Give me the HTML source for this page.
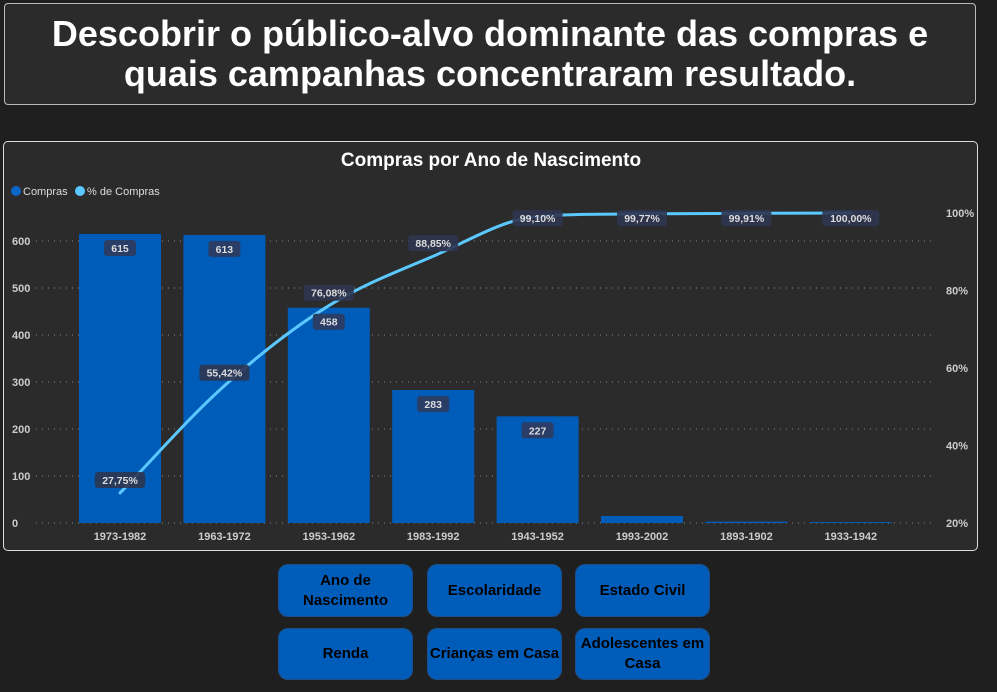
<!DOCTYPE html>
<html><head><meta charset="utf-8"><style>
body{margin:0;width:997px;height:692px;background:#1f1f1f;position:relative;overflow:hidden;font-family:"Liberation Sans",sans-serif}
.title{position:absolute;left:4px;top:3px;width:972px;height:102px;border:1px solid #bbb;border-radius:4px;background:#2b2b2b;color:#fff;font-weight:bold;font-size:36px;line-height:40px;text-align:center;box-sizing:border-box;padding-top:10px}
.panel{position:absolute;left:3px;top:141px;width:975px;height:410px;border:1px solid #ddd;border-radius:5px;background:#2b2b2b;box-sizing:border-box}
.btn{position:absolute;width:135px;height:53px;background:#005cb9;border:1px solid #1d4f8a;border-radius:10px;box-sizing:border-box;color:#000;font-weight:bold;font-size:15px;display:flex;align-items:center;justify-content:center;text-align:center;line-height:20px}
</style></head><body>
<div class="title">Descobrir o público-alvo dominante das compras e<br>quais campanhas concentraram resultado.</div>
<div class="panel"></div>
<svg id="chart" width="997" height="692" style="position:absolute;left:0;top:0" font-family="Liberation Sans, sans-serif"></svg>
<div class="btn" style="left:278px;top:564px">Ano de<br>Nascimento</div>
<div class="btn" style="left:427px;top:564px">Escolaridade</div>
<div class="btn" style="left:575px;top:564px">Estado Civil</div>
<div class="btn" style="left:278px;top:628px;height:52px">Renda</div>
<div class="btn" style="left:427px;top:628px;height:52px">Crianças em Casa</div>
<div class="btn" style="left:575px;top:628px;height:52px">Adolescentes em<br>Casa</div>
<script>
const categories=["1973-1982","1963-1972","1953-1962","1983-1992","1943-1952","1993-2002","1893-1902","1933-1942"];
const compras=[615,613,458,283,227,15,3,2];
const pctCompras=[27.75,55.42,76.08,88.85,99.10,99.77,99.91,100.00];
const leftTicks=[0,100,200,300,400,500,600];
const rightTicks=[20,40,60,80,100];
const svg=document.getElementById('chart');
const NS='http://www.w3.org/2000/svg';
function mk(t,a,txt){const e=document.createElementNS(NS,t);for(const k in a)e.setAttribute(k,a[k]);if(txt!==undefined)e.textContent=txt;svg.appendChild(e);return e;}
const yL=v=>523-v*0.47;
const yR=p=>523-(p-20)*3.875;
const xC=i=>120+i*104.4;
const bw=82;
let t=mk('text',{x:491,y:166,fill:'#fff','font-size':19,'font-weight':'bold','text-anchor':'middle'},'Compras por Ano de Nascimento');

let e=mk('circle',{cx:16,cy:191,r:5,fill:'#0a66c8'});
e=mk('text',{x:23,y:195,fill:'#ddd','font-size':11},'Compras');
e=mk('circle',{cx:80,cy:191,r:5,fill:'#5bc8ff'});
e=mk('text',{x:87,y:195,fill:'#ddd','font-size':11},'% de Compras');
leftTicks.forEach(v=>{e=mk('line',{x1:36,x2:935,y1:yL(v),y2:yL(v),stroke:'#888','stroke-dasharray':'1 5','stroke-width':1});});
leftTicks.forEach(v=>{e=mk('text',{x:12,y:yL(v)+4,fill:'#ccc','font-size':11,'font-weight':'bold'},String(v));});
rightTicks.forEach(p=>{e=mk('text',{x:946,y:yR(p)+4,fill:'#ccc','font-size':11,'font-weight':'bold'},p+'%');});
categories.forEach((c,i)=>{
 e=mk('rect',{x:xC(i)-bw/2,y:yL(compras[i]),width:bw,height:523-yL(compras[i]),fill:'#005cb9'});
 
 e=mk('text',{x:xC(i),y:540,fill:'#ccc','font-size':11,'font-weight':'bold','text-anchor':'middle'},c);
 
});
// monotone (Fritsch-Carlson) line
const pts=pctCompras.map((p,i)=>[xC(i),yR(p)]);
const n=pts.length,d=[],m=[];
for(let i=0;i<n-1;i++)d.push((pts[i+1][1]-pts[i][1])/(pts[i+1][0]-pts[i][0]));
for(let i=0;i<n;i++){if(i===0)m.push(d[0]);else if(i===n-1)m.push(d[n-2]);else m.push(d[i-1]*d[i]<=0?0:(d[i-1]+d[i])/2);}
for(let i=0;i<n-1;i++){if(d[i]===0){m[i]=0;m[i+1]=0;continue;}const a=m[i]/d[i],b=m[i+1]/d[i],s=a*a+b*b;if(s>9){const tt=3/Math.sqrt(s);m[i]=tt*a*d[i];m[i+1]=tt*b*d[i];}}
let path='M'+pts[0][0]+','+pts[0][1];
for(let i=0;i<n-1;i++){const h=(pts[i+1][0]-pts[i][0])/3;path+=` C${pts[i][0]+h},${pts[i][1]+m[i]*h} ${pts[i+1][0]-h},${pts[i+1][1]-m[i+1]*h} ${pts[i+1][0]},${pts[i+1][1]}`;}
e=mk('path',{d:path,fill:'none',stroke:'#5bc8ff','stroke-width':3,'stroke-linecap':'round'});

categories.forEach((c,i)=>{if(compras[i]<100)return;const cy=yL(compras[i])+14;
 e=mk('rect',{x:xC(i)-16,y:cy-8,width:32,height:16,rx:3,fill:'#2a3d66'});
 e=mk('text',{x:xC(i),y:cy+4,fill:'#ddd','font-size':10.5,'font-weight':'bold','text-anchor':'middle'},String(compras[i]));});
pctCompras.forEach((p,i)=>{const cy=Math.max(218,yR(p)-13);const s=p.toFixed(2).replace('.',',')+'%';const w=s.length*7+8;
 e=mk('rect',{x:xC(i)-w/2,y:cy-8,width:w,height:16,rx:3,fill:'#2e3550',opacity:0.9});
 e=mk('text',{x:xC(i),y:cy+4,fill:'#ddd','font-size':10.5,'font-weight':'bold','text-anchor':'middle'},s);});
</script>
</body></html>
